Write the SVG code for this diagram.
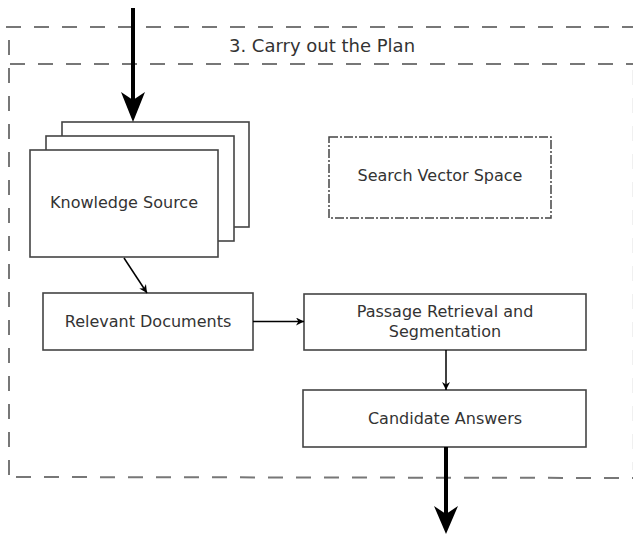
<svg xmlns="http://www.w3.org/2000/svg" width="633" height="535" viewBox="0 0 633 535">
<defs>
<style>
.box{fill:#fff;stroke:#444;stroke-width:1.6}
.dash{fill:none;stroke:#777;stroke-width:2;stroke-dasharray:15 13}
.txt{font-family:"DejaVu Sans",sans-serif;font-size:16px;fill:#333;text-anchor:middle}
.conn{fill:none;stroke:#000;stroke-width:1.5}
.thick{fill:none;stroke:#000;stroke-width:4}
</style>
<marker id="sm" viewBox="0 0 10 10" refX="10" refY="5" markerWidth="8" markerHeight="8" markerUnits="userSpaceOnUse" orient="auto"><path d="M0,0 L10,5 L0,10 L3,5 Z" fill="#000"/></marker>
</defs>
<rect width="633" height="535" fill="#fff"/>
<g id="container">
<line class="dash" x1="6" y1="27" x2="633" y2="27"/>
<line class="dash" x1="10" y1="64" x2="633" y2="64"/>
<line class="dash" x1="16" y1="477" x2="633" y2="478"/>
<line class="dash" x1="9" y1="40" x2="9" y2="488"/>
<line x1="632.5" y1="70" x2="632.5" y2="470" stroke="#f0f0f0" stroke-width="1" stroke-dasharray="15 13"/>
<text x="322" y="52" class="txt" style="font-size:18px">3. Carry out the Plan</text>
</g>
<g id="knowledge-source">
<rect class="box" x="62" y="122" width="187" height="105"/>
<rect class="box" x="46" y="136" width="188" height="105"/>
<rect class="box" x="30" y="150" width="188" height="107"/>
<text x="124" y="208" class="txt">Knowledge Source</text>
</g>
<g id="search-vector-space">
<rect x="329" y="137" width="222" height="81" fill="#fff" stroke="#444" stroke-width="1.5" stroke-dasharray="9 2 2 2"/>
<text x="440" y="181" class="txt">Search Vector Space</text>
</g>
<g id="relevant-documents">
<rect class="box" x="43" y="293" width="210" height="57"/>
<text x="148" y="327" class="txt">Relevant Documents</text>
</g>
<g id="passage-retrieval">
<rect class="box" x="304" y="294" width="282" height="56"/>
<text x="445" y="317" class="txt">Passage Retrieval and</text>
<text x="445" y="337" class="txt">Segmentation</text>
</g>
<g id="candidate-answers">
<rect class="box" x="303" y="390" width="283" height="57"/>
<text x="445" y="424" class="txt">Candidate Answers</text>
</g>
<g id="connectors">
<line class="thick" x1="133" y1="8" x2="133" y2="100"/>
<path d="M121,92 L133,122 L145,92 L133,100 Z" fill="#000"/>
<line class="conn" x1="124" y1="258" x2="147" y2="293" marker-end="url(#sm)"/>
<line class="conn" x1="253" y1="321.5" x2="304" y2="321.5" marker-end="url(#sm)"/>
<line class="conn" x1="446" y1="350" x2="446" y2="390" marker-end="url(#sm)"/>
<line class="thick" x1="446" y1="447" x2="446" y2="515"/>
<path d="M434,506 L446,534 L458,506 L446,514 Z" fill="#000"/>
</g>
</svg>
